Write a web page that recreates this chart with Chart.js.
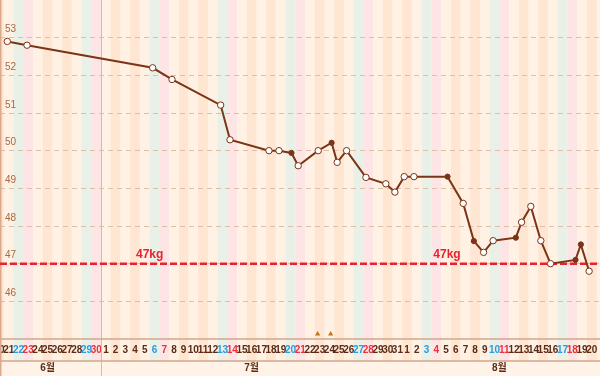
<!DOCTYPE html>
<html>
<head>
<meta charset="utf-8">
<script src="https://cdn.jsdelivr.net/npm/chart.js@4"></script>
<style>
  body { margin: 0; background: #fff1e4; }
  #wrap { width: 600px; height: 376px; }
</style>
</head>
<body>
<div id="wrap"><canvas id="weight"></canvas></div>
<script>
// day index 0 = 2019-06-20
const startDate = [2019, 5, 20];
const dayLabels = [20, 21, 22, 23, 24, 25, 26, 27, 28, 29, 30,
  1, 2, 3, 4, 5, 6, 7, 8, 9, 10, 11, 12, 13, 14, 15, 16, 17, 18, 19, 20,
  21, 22, 23, 24, 25, 26, 27, 28, 29, 30, 31,
  1, 2, 3, 4, 5, 6, 7, 8, 9, 10, 11, 12, 13, 14, 15, 16, 17, 18, 19, 20];
const monthLabels = ['6월', '7월', '8월'];
const monthCenters = [5.0, 26.0, 51.5];
const monthBreaks = [10.5];

// weigh-ins: day position, kg, kind (o = open marker, f = filled marker)
const dayPos = [0.85, 2.88, 15.81, 17.8, 22.81, 23.77, 27.78, 28.81, 30.1, 30.79,
  32.85, 34.23, 34.8, 35.77, 37.76, 39.81, 40.74, 41.7, 42.7, 46.16,
  47.77, 48.87, 49.87, 50.85, 53.19, 53.78, 54.73, 55.76, 56.76, 59.33,
  59.88, 60.73];
const weights = [52.9, 52.8, 52.2, 51.89, 51.21, 50.29, 50.0, 50.0, 49.94, 49.6,
  50.0, 50.21, 49.69, 50.0, 49.29, 49.12, 48.9, 49.31, 49.31, 49.31,
  48.6, 47.6, 47.3, 47.61, 47.69, 48.1, 48.52, 47.61, 47.0, 47.1,
  47.51, 46.8];
const kinds = ['o', 'o', 'o', 'o', 'o', 'o', 'o', 'o', 'f', 'o',
  'o', 'f', 'o', 'o', 'o', 'o', 'o', 'o', 'o', 'f',
  'o', 'f', 'o', 'o', 'f', 'o', 'o', 'o', 'o', 'f',
  'f', 'o'];

const goal = 47;
const goalLabelPos = [15.5, 46.1];
const notePos = [32.79, 34.13];

const xMin = 0.1, xMax = 61.85;
const brown = '#7b3415';

function weekday(i) {
  return new Date(startDate[0], startDate[1], startDate[2] + i).getDay();
}

function noPad(s) {
  s.paddingLeft = 0; s.paddingRight = 0; s.paddingTop = 0; s.paddingBottom = 0;
}

const background = {
  id: 'background',
  beforeDraw(chart) {
    const { ctx, scales } = chart;
    const x = scales.x;
    const labelBottom = x.bottom;
    ctx.save();
    ctx.fillStyle = '#fff2e6';
    ctx.fillRect(0, labelBottom, chart.width, chart.height - labelBottom);
    dayLabels.forEach((d, i) => {
      const wd = weekday(i);
      let c = (wd === 2 || wd === 4) ? '#ffe6d3' : '#fff1e4';
      if (wd === 6) c = '#e9f0e8';
      if (wd === 0) c = '#fde5e5';
      const l = x.getPixelForValue(i - 0.5);
      const r = x.getPixelForValue(i + 0.5);
      ctx.fillStyle = c;
      ctx.fillRect(l, 0, r - l, labelBottom);
    });
    ctx.restore();
  },
  beforeDatasetsDraw(chart) {
    const { ctx, scales, chartArea } = chart;
    const x = scales.x;
    ctx.save();
    ctx.strokeStyle = '#e6b59c';
    ctx.lineWidth = 1;
    monthBreaks.forEach(b => {
      const px = Math.round(x.getPixelForValue(b)) + 0.5;
      ctx.beginPath();
      ctx.moveTo(px, 0);
      ctx.lineTo(px, chart.height);
      ctx.stroke();
    });
    ctx.strokeStyle = '#d2a68a';
    ctx.lineWidth = 1.5;
    [chartArea.bottom, x.bottom].forEach(y => {
      ctx.beginPath();
      ctx.moveTo(0, y);
      ctx.lineTo(chart.width, y);
      ctx.stroke();
    });
    ctx.strokeStyle = '#dca98c';
    ctx.beginPath();
    ctx.moveTo(0.75, 0);
    ctx.lineTo(0.75, chart.height);
    ctx.stroke();
    ctx.restore();
  },
  afterDatasetsDraw(chart) {
    const { ctx, scales } = chart;
    ctx.save();
    ctx.fillStyle = '#e8222e';
    ctx.font = 'bold 12px "Liberation Sans", Arial, sans-serif';
    ctx.textAlign = 'center';
    ctx.textBaseline = 'middle';
    goalLabelPos.forEach(p => {
      ctx.fillText(goal + 'kg', scales.x.getPixelForValue(p), scales.y.getPixelForValue(goal) - 9);
    });
    ctx.restore();
  }
};

const ctx = document.getElementById('weight');
new Chart(ctx, {
  type: 'line',
  data: {
    datasets: [
      {
        data: dayPos.map((d, i) => ({ x: d, y: weights[i] })),
        borderColor: brown,
        borderWidth: 2,
        pointRadius: kinds.map(k => k === 'f' ? 2.6 : 3.2),
        pointBackgroundColor: kinds.map(k => k === 'f' ? brown : '#ffffff'),
        pointBorderColor: brown,
        pointBorderWidth: 1,
        tension: 0,
        order: 1
      },
      {
        data: [{ x: xMin, y: goal }, { x: xMax, y: goal }],
        borderColor: '#e8222e',
        borderWidth: 2.5,
        borderDash: [7, 3],
        pointRadius: 0,
        order: 2
      },
      {
        data: notePos.map(p => ({ x: p, y: 45.13 })),
        showLine: false,
        pointStyle: 'triangle',
        pointRadius: 3,
        pointBackgroundColor: '#c8701c',
        pointBorderColor: '#c8701c',
        pointBorderWidth: 0,
        order: 0
      }
    ]
  },
  options: {
    responsive: true,
    maintainAspectRatio: false,
    animation: false,
    layout: { padding: 0, autoPadding: false },
    plugins: { legend: { display: false }, tooltip: { enabled: false } },
    scales: {
      x: {
        type: 'linear',
        min: xMin,
        max: xMax,
        weight: 0,
        grid: { display: false, drawTicks: false },
        border: { display: false },
        afterBuildTicks: s => { s.ticks = dayLabels.map((d, i) => ({ value: i })); },
        afterFit: s => { s.height = 22; noPad(s); },
        ticks: {
          autoSkip: false,
          maxRotation: 0,
          minRotation: 0,
          padding: 5,
          font: { family: '"Liberation Sans", Arial, sans-serif', size: 10, weight: 'bold' },
          color: c => {
            const wd = weekday(Math.round(c.tick.value));
            return wd === 6 ? '#2b9be0' : wd === 0 ? '#e8323c' : '#5a2c16';
          },
          callback: v => dayLabels[Math.round(v)]
        }
      },
      x2: {
        type: 'linear',
        position: 'bottom',
        min: xMin,
        max: xMax,
        weight: 1,
        grid: { display: false, drawTicks: false },
        border: { display: false },
        afterBuildTicks: s => { s.ticks = monthCenters.map(v => ({ value: v })); },
        afterFit: s => { s.height = 15; noPad(s); },
        ticks: {
          autoSkip: false,
          maxRotation: 0,
          padding: 1,
          font: { family: '"Liberation Sans", "Noto Sans CJK KR", sans-serif', size: 10, weight: 'bold' },
          color: '#5a2c16',
          callback: (v, i) => monthLabels[i]
        }
      },
      y: {
        min: 45,
        max: 54,
        afterFit: s => { s.width = 0; noPad(s); },
        grid: {
          drawTicks: false,
          color: c => (c.tick.value === 45 || c.tick.value === 54) ? 'rgba(0,0,0,0)' : '#dcc0aa',
          lineWidth: 1
        },
        border: { display: false, dash: [5, 4] },
        ticks: {
          stepSize: 1,
          mirror: true,
          padding: 5,
          labelOffset: -8,
          font: { family: '"Liberation Sans", Arial, sans-serif', size: 10 },
          color: '#a8693f',
          callback: v => (v === 45 || v === 54) ? '' : v
        }
      }
    }
  },
  plugins: [background]
});
</script>
</body>
</html>
